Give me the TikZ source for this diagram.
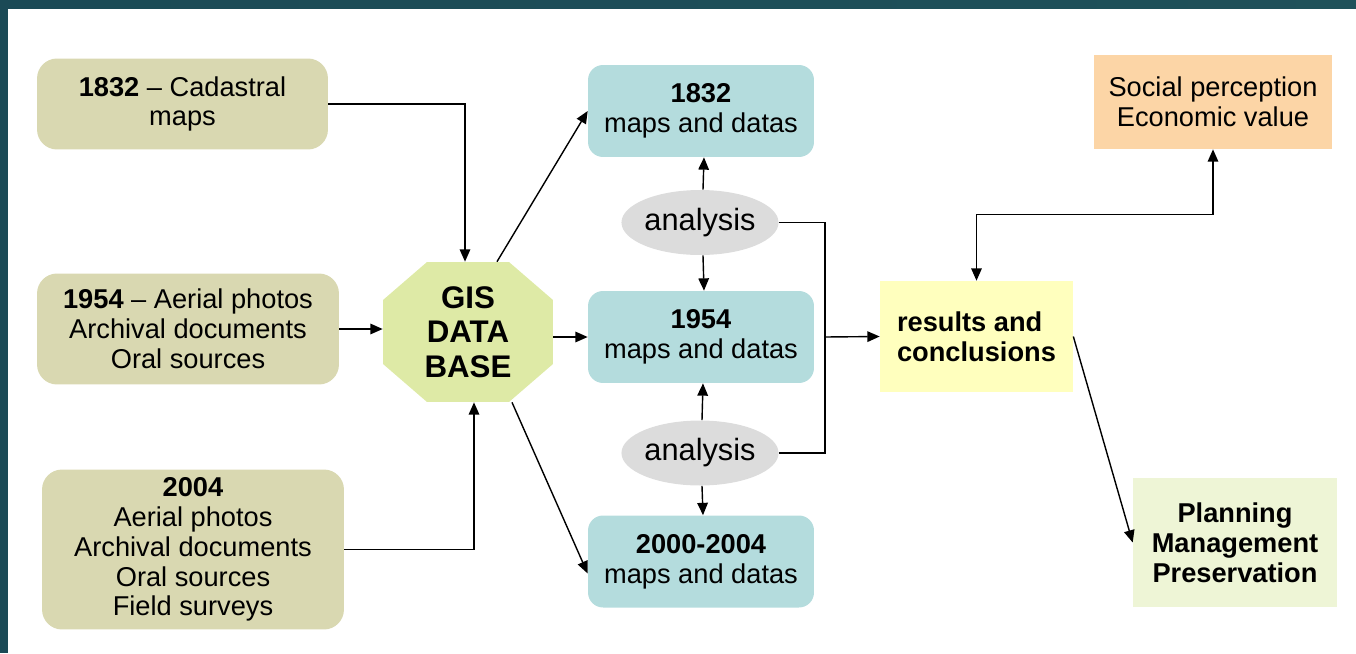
\documentclass[tikz,border=0pt]{standalone}
\usepackage{fontspec}
\setmainfont{Liberation Sans}
\usepackage{tikz}
\usetikzlibrary{arrows.meta, shapes.geometric}

\definecolor{framedark}{HTML}{1B4A56}
\definecolor{framelight}{HTML}{2F6C69}
\definecolor{srcolive}{HTML}{D9D8B1}
\definecolor{gisgreen}{HTML}{DEEAA6}
\definecolor{mapteal}{HTML}{B4DCDD}
\definecolor{anagrey}{HTML}{DCDCDC}
\definecolor{resyellow}{HTML}{FFFFBE}
\definecolor{socorange}{HTML}{FCD5A6}
\definecolor{planpale}{HTML}{EEF5D6}

\tikzset{
  srcbox/.style={fill=srcolive, rounded corners=0.4cm, align=center, inner sep=0pt},
  mapbox/.style={fill=mapteal, rounded corners=0.3cm, align=center, inner sep=0pt,
    minimum width=4.52cm, minimum height=1.84cm},
  anaell/.style={ellipse, fill=anagrey, inner sep=0pt, minimum width=2.8cm,
    minimum height=1.3cm, font=\fontsize{17.5}{19}\selectfont},
  octa/.style={inner sep=0pt, align=center, minimum width=3.4cm, minimum height=2.8cm,
    font=\fontsize{17.8}{19.6}\selectfont\bfseries,
    path picture={\fill[gisgreen]
      ([xshift=0.88cm]path picture bounding box.north west) --
      ([xshift=-0.88cm]path picture bounding box.north east) --
      ([yshift=-0.76cm]path picture bounding box.north east) --
      ([yshift=0.76cm]path picture bounding box.south east) --
      ([xshift=-0.88cm]path picture bounding box.south east) --
      ([xshift=0.88cm]path picture bounding box.south west) --
      ([yshift=0.76cm]path picture bounding box.south west) --
      ([yshift=-0.76cm]path picture bounding box.north west) -- cycle;}},
  flatbox/.style={align=center, inner sep=0pt},
  link/.style={line width=0.8pt, >={Triangle[length=7pt,width=6pt]}}
}

\begin{document}
\begin{tikzpicture}[x=0.02cm, y=-0.02cm, font=\fontsize{15.5}{17}\selectfont]
\useasboundingbox (0,0) rectangle (1356,653);
\shade[left color=framedark, middle color=framelight, right color=framedark!80!framelight] (0,0) rectangle (1356,8);
\fill[framedark] (0,0) rectangle (8,653);
%
\node[srcbox, minimum width=5.82cm, minimum height=1.82cm](src1) at (182.5,104) {\textbf{1832} – Cadastral\\maps};
\node[srcbox, minimum width=6.04cm, minimum height=2.22cm](src2) at (188,329) {\textbf{1954} – Aerial photos\\Archival documents\\Oral sources};
\node[srcbox, minimum width=6.04cm, minimum height=3.2cm](src3) at (193,549.5) {\textbf{2004}\\Aerial photos\\Archival documents\\Oral sources\\Field surveys};
\node[octa](gis) at (468,332) {GIS\\DATA\\BASE};
%
\node[mapbox](m1832) at (701,111) {\textbf{1832}\\maps and datas};
\node[mapbox](m1954) at (701,337) {\textbf{1954}\\maps and datas};
\node[mapbox](m2004) at (701,561.5) {\textbf{2000-2004}\\maps and datas};
\node[anaell](ana1) at (700,222.5) {analysis};
\node[anaell](ana2) at (700,453) {analysis};
%
\node[flatbox, fill=resyellow, minimum width=3.86cm, minimum height=2.22cm, align=left, font=\fontsize{15.5}{17}\selectfont\bfseries](res) at (976.5,336.5) {results and\\conclusions};
\node[flatbox, fill=socorange, minimum width=4.76cm, minimum height=1.88cm](soc) at (1213,102) {Social perception\\Economic value};
\node[flatbox, fill=planpale, minimum width=4.08cm, minimum height=2.58cm, font=\fontsize{15.5}{17}\selectfont\bfseries](plan) at (1235,542.5) {Planning\\Management\\Preservation};
\coordinate(join) at (825,337);
%
\draw[link, ->](src1.east) -| ([xshift=-0.06cm]gis.north);
\draw[link, ->](src2.east) -- (src2.east -| gis.west);
\draw[link, ->](src3.east) -| ([xshift=0.12cm]gis.south);
\draw[link, ->]([xshift=0.58cm]gis.north) -- (m1832.west);
\draw[link, ->](gis.east |- m1954.west) -- (m1954.west);
\draw[link, ->]([xshift=0.88cm]gis.south) -- ([yshift=-0.24cm]m2004.west);
\draw[link, ->]([xshift=0.06cm]ana1.north) -- ([xshift=0.06cm]m1832.south);
\draw[link, ->]([xshift=0.06cm]ana1.south) -- ([xshift=0.06cm]m1954.north);
\draw[link, ->]([xshift=0.04cm]ana2.north) -- ([xshift=0.04cm]m1954.south);
\draw[link, ->]([xshift=0.04cm]ana2.south) -- ([xshift=0.04cm]m2004.north);
\draw[link](ana1.east) -| (join);
\draw[link](ana2.east) -| (join);
\draw[link, ->](join) -- (res.west);
\draw[link, <->](res.north) -- ++(0,-66) -| (soc.south);
\draw[link, ->](res.east) -- (plan.west);
\end{tikzpicture}
\end{document}
